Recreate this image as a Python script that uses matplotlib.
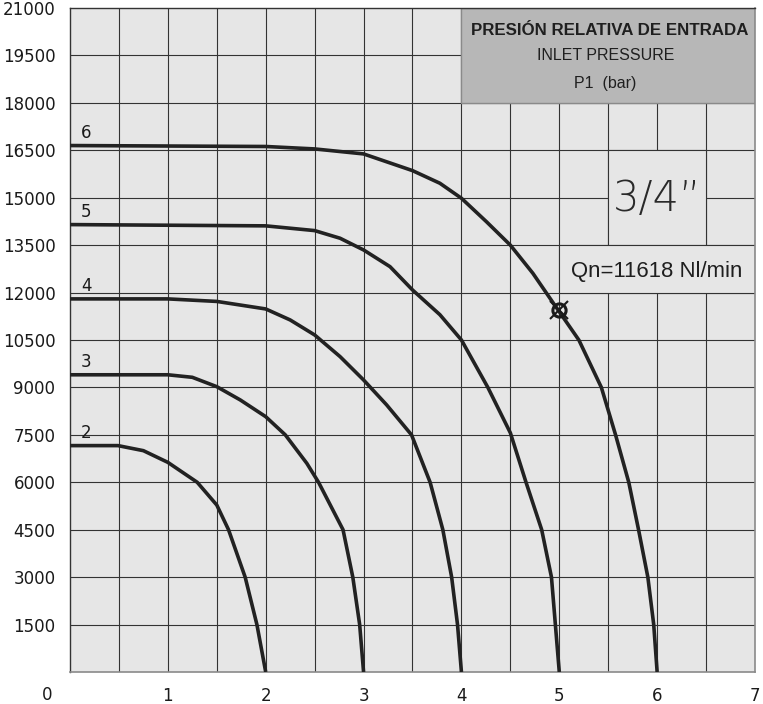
import matplotlib
matplotlib.use("Agg")
import matplotlib.pyplot as plt
from matplotlib.patches import Rectangle
import numpy as np

# ---- data ----
p2_x = [0.0, 0.49, 0.75, 1.0, 1.3, 1.5, 1.62, 1.705, 1.79, 1.85, 1.91, 2.0]
p2_y = [7160, 7160, 7000, 6630, 6000, 5280, 4500, 3750, 3000, 2250, 1500, 0]

p3_x = [0.0, 1.0, 1.25, 1.5, 1.74, 2.0, 2.2, 2.42, 2.54, 2.79, 2.89, 2.96, 3.0]
p3_y = [9400, 9400, 9320, 9024, 8604, 8075, 7500, 6600, 6000, 4500, 3000, 1500, 0]

p4_x = [0.0, 1.0, 1.5, 2.0, 2.25, 2.5, 2.76, 3.0, 3.235, 3.49, 3.68, 3.81, 3.90, 3.96, 4.0]
p4_y = [11800, 11800, 11720, 11482, 11134, 10660, 9974, 9236, 8450, 7500, 6000, 4500, 3000, 1500, 0]

p5_x = [0.0, 2.0, 2.5, 2.76, 3.0, 3.27, 3.5, 3.78, 4.0, 4.27, 4.5, 4.66, 4.82, 4.92, 4.96, 5.0]
p5_y = [14150, 14110, 13960, 13718, 13348, 12820, 12083, 11300, 10500, 9000, 7563, 6000, 4500, 3000, 1500, 0]

p6_x = [0.0, 2.0, 2.5, 3.0, 3.5, 3.78, 4.0, 4.255, 4.5, 4.73, 4.94, 5.2, 5.43,
        5.575, 5.71, 5.81, 5.905, 5.965, 6.0]
p6_y = [16650, 16620, 16543, 16385, 15857, 15457, 14983, 14243, 13500, 12610, 11662, 10500,
        9000, 7500, 6000, 4500, 3000, 1500, 0]

curve_labels = ["2", "3", "4", "5", "6"]
curves_x = [p2_x, p3_x, p4_x, p5_x, p6_x]
curves_y = [p2_y, p3_y, p4_y, p5_y, p6_y]

x_ticks = [1, 2, 3, 4, 5, 6, 7]
y_ticks = [1500, 3000, 4500, 6000, 7500, 9000, 10500, 12000, 13500, 15000,
           16500, 18000, 19500, 21000]

qn_point = (5.0, 11440)
qn_text = "Qn=11618 Nl/min"
size_text = "3/4\u201d"
header_lines = ["PRESIÓN RELATIVA DE ENTRADA", "INLET PRESSURE", "P1  (bar)"]

# ---- figure ----
fig = plt.figure(figsize=(7.63, 7.04), dpi=100)
ax = fig.add_axes([70 / 763, 1 - 672 / 704, (755 - 70) / 763, (672 - 8) / 704])
bg = "#e6e6e6"
gridc = "#333333"
ax.set_facecolor(bg)
fig.patch.set_facecolor("white")

ax.set_xlim(0, 7)
ax.set_ylim(0, 21000)

# grid
for gx in np.arange(0.5, 7.0, 0.5):
    ax.axvline(gx, color=gridc, lw=0.8, zorder=1)
for gy in np.arange(1500, 21000, 1500):
    ax.axhline(gy, color=gridc, lw=0.8, zorder=1)

for s in ["left", "top"]:
    ax.spines[s].set_color(gridc)
    ax.spines[s].set_linewidth(1.0)
for s in ["right", "bottom"]:
    ax.spines[s].set_color("#8a8a8a")
    ax.spines[s].set_linewidth(1.2)

ax.set_xticks(x_ticks)
ax.set_xticklabels([str(v) for v in x_ticks])
ax.set_yticks(y_ticks)
ax.set_yticklabels([str(v) for v in y_ticks])
ax.tick_params(axis="both", length=0, labelsize=12, colors="#1a1a1a")
ax.tick_params(axis="x", pad=11)
ax.tick_params(axis="y", pad=10.5)
ax.text(-0.034, -0.035, "0", transform=ax.transAxes, ha="center", va="center",
        fontsize=12, color="#1a1a1a")

# header box
hdr_font = ["Liberation Sans", "DejaVu Sans"]
ax.add_patch(Rectangle((4.0, 18000), 3.0, 3000, facecolor="#b7b7b7",
                       edgecolor="#8a8a8a", lw=1.0, zorder=2))
ax.text(5.52, 20273, header_lines[0], ha="center", va="center", fontsize=12.2,
        fontweight="bold", color="#1f1f1f", zorder=3, family=hdr_font)
ax.text(5.47, 19482, header_lines[1], ha="center", va="center", fontsize=11.5,
        color="#1f1f1f", zorder=3, family=hdr_font)
ax.text(5.47, 18628, header_lines[2], ha="center", va="center", fontsize=11.5,
        color="#1f1f1f", zorder=3, family=hdr_font)

# 3/4" box and Qn box
ax.add_patch(Rectangle((5.5, 13500), 1.0, 3000, facecolor=bg, edgecolor=gridc,
                       lw=0.8, zorder=2))
ax.add_patch(Rectangle((5.0, 12000), 2.0, 1500, facecolor=bg, edgecolor=gridc,
                       lw=0.8, zorder=2))
ax.text(6.0, 14980, size_text, ha="center", va="center", fontsize=30,
        color="#2a2a2a", zorder=3, fontweight="light")
ax.text(6.0, 12681, qn_text, ha="center", va="center", fontsize=15.9,
        color="#1f1f1f", zorder=3, family=hdr_font)

# curves
for lab, cx, cy in zip(curve_labels, curves_x, curves_y):
    ax.plot(cx, cy, color="#222222", lw=2.6, solid_capstyle="butt",
            solid_joinstyle="round", zorder=4)
    ax.text(0.167, cy[0] + 400, lab, ha="center", va="center", fontsize=12,
            color="#1a1a1a", zorder=5)

# Qn marker
ax.plot([qn_point[0]], [qn_point[1]], marker="o", ms=9.5, mfc="none",
        mec="#1a1a1a", mew=2.2, zorder=6)
ax.plot([qn_point[0]], [qn_point[1]], marker="x", ms=13, mec="#1a1a1a",
        mew=1.5, zorder=6)

fig.savefig("out.png", dpi=100)
